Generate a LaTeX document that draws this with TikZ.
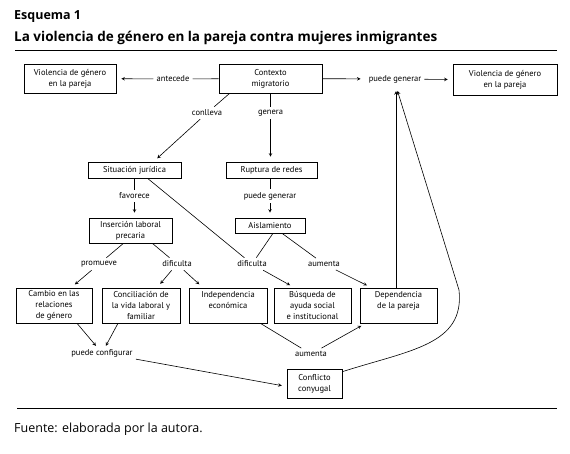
\documentclass[tikz,border=0pt]{standalone}
\usepackage{fontspec}
\setmainfont{PT Sans}
\newfontfamily\headfont{Open Sans}
\newcommand{\diagfont}{\fontsize{8.5}{11}\selectfont}
\tikzset{
  box/.style={draw,line width=.6pt,align=center,inner sep=1pt,font=\diagfont},
  lbl/.style={align=center,inner sep=3pt,font=\diagfont},
  arr/.style={draw,line width=.6pt,>=stealth,->,shorten >=5pt},
  ln/.style={draw,line width=.6pt}
}
\begin{document}
\begin{tikzpicture}[x=1pt,y=-1pt]
            \useasboundingbox (0,0) rectangle (570,454);
            % heading and footer
            \node[anchor=base west,inner sep=0,font=\headfont\fontsize{12.5}{14}\selectfont\bfseries] at (14,20)(esq){Esquema 1};
            \node[anchor=base west,inner sep=0,font=\headfont\fontsize{13.5}{15}\selectfont\bfseries] at (14,42)(tit){La violencia de género en la pareja contra mujeres inmigrantes};
            \draw[line width=1.7pt] (15,50.5) -- (557,50.5);
            \draw[line width=.8pt] (17,408) -- (557,408);
            \node[anchor=base west,inner sep=0,font=\headfont\fontsize{12.5}{14}\selectfont] at (14,432)(fte){Fuente: elaborada por la autora.};
            % boxes
            \foreach \n/\x/\y/\w/\h/\t in {vio1/70/78.5/92/29/{Violencia de género\\en la pareja},
                ctx/270.5/78.5/103/29/{Contexto\\migratorio},
                vio2/505/80/104/31/{Violencia de género\\en la pareja},
                sit/134.5/170/93/16/{Situación jurídica},
                rup/271.5/170/91/16/{Ruptura de redes},
                ins/130.5/230.5/83/25/{Inserción laboral\\precaria},
                ais/270/225.5/70/15/{Aislamiento},
                cam/54/305.5/76/35/{Cambio en las\\relaciones\\de género},
                con/141/305.5/78/35/{Conciliación de\\la vida laboral y\\familiar},
                ind/228/305.5/78/35/{Independencia\\económica\\\mbox{}},
                bus/312.5/305.5/77/35/{Búsqueda de\\ayuda social\\e institucional},
                dep/398.5/305.5/77/35/{Dependencia\\de la pareja\\\mbox{}},
                cfl/314.5/383.5/55/29/{Conflicto\\conyugal}}{
                \node[box,minimum width=\w pt,minimum height=\h pt] at (\x,\y)(\n){\t};
            }
            % labels on the links
            \foreach \n/\x/\y/\t in {ant/173/79/antecede, pg/395/79/puede generar,
                cll/207/113/conlleva, gen/270.5/113/genera,
                fav/134.5/196/favorece, pg2/270/196/puede generar,
                prom/99/264/promueve, dif1/177/264/dificulta, dif2/252/264/dificulta,
                aum1/324/264/aumenta, pcf/102/353/puede configurar, aum2/311/354/aumenta}{
                \node[lbl] at (\x,\y)(\n){\t};
            }
            % links
            \path[ln] (ctx) -- (ant);
            \path[arr] (ant) -- (vio1);
            \path[arr] (ctx) -- (pg);
            \path[arr] (pg) -- (vio2);
            \path[ln] ([xshift=11pt]ctx.south west) -- (cll);
            \path[arr] (cll) -- ([xshift=19pt]sit.north);
            \path[ln] (gen |- ctx.south) -- (gen);
            \path[arr] (gen) -- (gen |- rup.north);
            \path[ln] (fav |- sit.south) -- (fav);
            \path[arr] (fav) -- (fav |- ins.north);
            \path[ln] (pg2 |- rup.south) -- (pg2);
            \path[arr] (pg2) -- (pg2 |- ais.north);
            \path[ln] ([xshift=-7pt]ins.south) -- (prom);
            \path[arr] (prom) -- ([xshift=17pt]cam.north);
            \path[ln] ([xshift=-20pt]ins.south east) -- (dif1);
            \path[arr] (dif1) -- ([xshift=16pt]con.north);
            \path[arr] (dif1) -- ([xshift=-25pt]ind.north);
            \path[ln] ([xshift=13pt]sit.south) -- (dif2);
            \path[ln] ([xshift=3pt]ais.south) -- (dif2);
            \path[arr] (dif2) -- ([xshift=-18pt]bus.north);
            \path[ln] ([xshift=12pt]ais.south) -- (aum1);
            \path[arr] (aum1) -- ([xshift=-27pt]dep.north);
            \path[arr,shorten >=0pt] ([xshift=23pt]cam.south) -- (pcf);
            \path[arr,shorten >=0pt] ([xshift=-23pt]con.south) -- (pcf);
            \path[arr] (pcf) -- ([yshift=-3pt]cfl.west);
            \path[ln] ([xshift=-7pt]ind.south east) -- (aum2);
            \path[arr] (aum2) -- ([xshift=6pt]dep.south west);
            \coordinate (dn) at ([xshift=-2.5pt]dep.north);
            \coordinate (top) at (dn |- pg.south);
            \path[arr] (dn) -- (top);
            \path[arr] ([yshift=-3pt]cfl.north east) .. controls (410,350) and (465,345) .. (459,290) -- (top);
        \end{tikzpicture}
\end{document}
